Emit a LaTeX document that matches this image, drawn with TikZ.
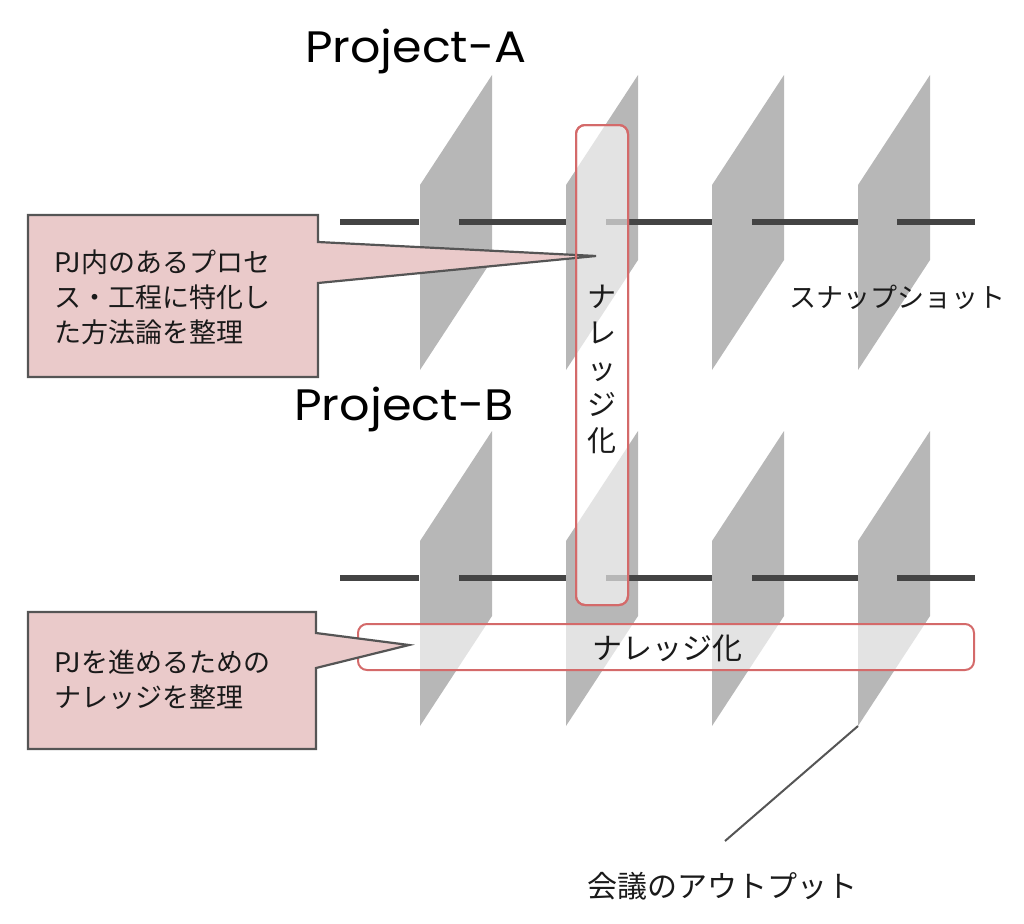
\documentclass[tikz,border=0pt]{standalone}
\usepackage{fontspec}
\newfontfamily\titlefont{Poppins}
\newfontfamily\jp{Noto Sans CJK JP}
\definecolor{plane}{HTML}{B7B7B7}
\definecolor{axis}{HTML}{444444}
\definecolor{calloutfill}{HTML}{EACACA}
\definecolor{calloutline}{HTML}{555555}
\definecolor{boxline}{HTML}{D46A6A}
\definecolor{txt}{HTML}{1A1A1A}
\tikzset{
  planeshape/.style={fill=plane, draw=none},
  axisline/.style={draw=axis, line width=6.5pt},
  calloutshape/.style={fill=calloutfill, draw=calloutline, line width=2.2pt, line join=miter},
  knowbox/.style={fill=white, fill opacity=0.62, draw=boxline, draw opacity=1, line width=2pt, rounded corners=9pt},
  knowborder/.style={draw=boxline, line width=2pt, rounded corners=9pt},
  titletext/.style={font=\titlefont\fontsize{44}{50}\selectfont, text=black, inner sep=0pt},
  jptext/.style={font=\jp\fontsize{27}{35}\selectfont, text=txt, inner sep=0pt, align=left},
  bigjp/.style={font=\jp\fontsize{29}{36}\selectfont, text=txt, inner sep=0pt, align=center}
}
\begin{document}
\begin{tikzpicture}[x=1pt,y=-1pt]
\useasboundingbox (0,0) rectangle (1024,923);
% planes
\foreach \i in {0,1,2,3}{
  \pgfmathsetmacro{\xa}{420+146*\i}
  \pgfmathsetmacro{\xb}{492+146*\i}
  \path[planeshape] (\xa,185) -- (\xb,75) -- (\xb,260) -- (\xa,370) -- cycle;
  \path[planeshape] (\xa,541) -- (\xb,431) -- (\xb,616) -- (\xa,726) -- cycle;
}
\coordinate (p4b) at (858,726);
% axis lines
\foreach \y in {222,578}{
  \draw[axisline] (340,\y) -- (419,\y);
  \draw[axisline] (459,\y) -- (566,\y);
  \draw[axisline] (606,\y) -- (712,\y);
  \draw[axisline] (752,\y) -- (858,\y);
  \draw[axisline] (897,\y) -- (975,\y);
}
% knowledge boxes
\path[knowbox] (576,125) rectangle (628,605);
\path[knowbox] (358,624) rectangle (974,670);
% callouts
\path[calloutshape] (28,215) -- (318,215) -- (318,242) -- (596,256) -- (318,283) -- (318,377) -- (28,377) -- cycle;
\path[knowborder] (576,125) rectangle (628,605);
\path[calloutshape] (28,612) -- (316,612) -- (316,633) -- (409,645) -- (316,668) -- (316,749) -- (28,749) -- cycle;
% texts
\node[titletext, anchor=base west] (pa) at (305,63) {\scalebox{1.08}[1]{Project-A}};
\node[titletext, anchor=base west] (pb) at (294,420) {\scalebox{1.085}[1]{Project-B}};
\node[jptext, anchor=west] (c1) at (54,297) {PJ内のあるプロセ\\ス・工程に特化し\\た方法論を整理};
\node[jptext, anchor=west] (c2) at (54,680) {PJを進めるための\\ナレッジを整理};
\node[bigjp] (kv) at (602,369) {ナ\\レ\\ッ\\ジ\\化};
\node[bigjp, font=\jp\fontsize{30}{36}\selectfont] (kh) at (667,648) {ナレッジ化};
\node[jptext] (snap) at (897,297) {スナップショット};
\node[bigjp, font=\jp\fontsize{30}{36}\selectfont] (out) at (722,886) {会議のアウトプット};
\coordinate (outend) at (725,841);
\draw[calloutline, line width=2pt] (p4b) -- (outend);
\end{tikzpicture}
\end{document}
